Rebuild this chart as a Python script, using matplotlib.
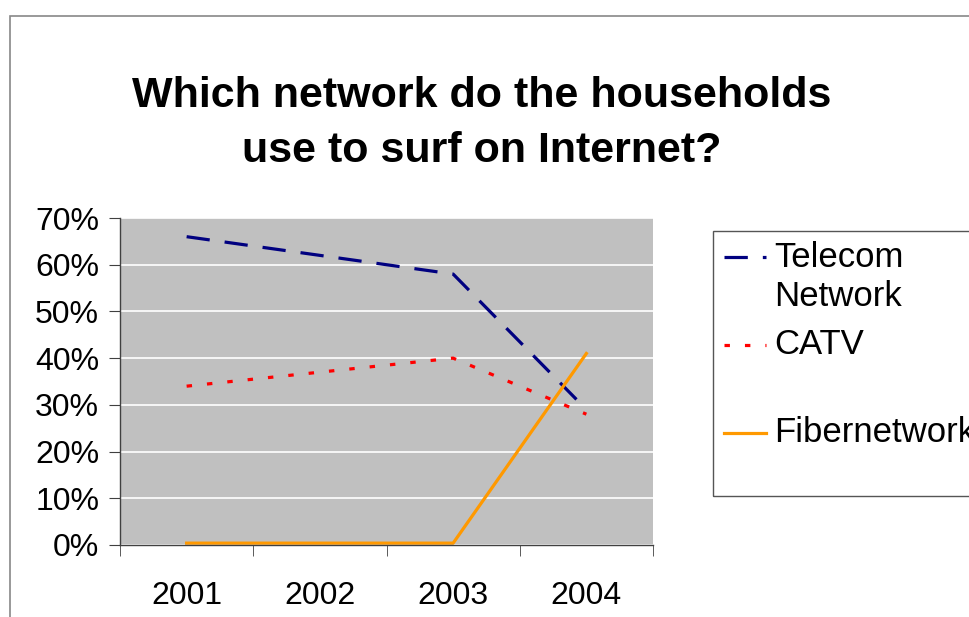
import matplotlib
matplotlib.use("Agg")
import matplotlib.pyplot as plt
from matplotlib.lines import Line2D
from matplotlib.patches import Rectangle

plt.rcParams["font.family"] = ["Liberation Sans", "DejaVu Sans"]

years = ["2001", "2002", "2003", "2004"]
telecom = [66, 62, 58, 29]
catv = [34, 37, 40, 28]
fiber = [0.4, 0.4, 0.4, 41]
yticks = [0, 10, 20, 30, 40, 50, 60, 70]

NAVY = "#000080"
RED = "#FF0000"
ORANGE = "#FF9900"

fig = plt.figure(figsize=(9.70, 6.17), dpi=100)

# outer chart frame
fig.add_artist(Rectangle((10 / 970, -0.1), 1.1, (617 - 16) / 617 + 0.1,
                         transform=fig.transFigure, fill=False,
                         edgecolor="#888888", lw=1.2))

ax = fig.add_axes([120 / 970, 72 / 617, 533 / 970, 327 / 617])
ax.set_facecolor("#C0C0C0")
x = range(len(years))
lw = 2.3
ax.plot(x, telecom, color=NAVY, lw=lw, dashes=(7.3, 4.7))
ax.plot(x, catv, color=RED, lw=lw, dashes=(1.7, 4.7))
ax.plot(x, fiber, color=ORANGE, lw=lw)

ax.set_xlim(-0.5, 3.5)
ax.set_ylim(0, 70)
ax.set_yticks(yticks)
ax.set_yticklabels([f"{v}%" for v in yticks], fontsize=23)
ax.yaxis.grid(True, color="white", lw=1.2)
ax.set_axisbelow(True)
ax.set_xticks(list(x))
ax.set_xticklabels(years, fontsize=23)
ax.set_xticks([-0.5, 0.5, 1.5, 2.5, 3.5], minor=True)
ax.tick_params(axis="x", which="major", length=0, pad=26)
ax.tick_params(axis="x", which="minor", length=8, color="#404040", direction="out")
ax.tick_params(axis="y", length=8, color="#404040", pad=7)
for s in ("top", "right"):
    ax.spines[s].set_visible(False)
for s in ("left", "bottom"):
    ax.spines[s].set_color("#404040")
    ax.spines[s].set_linewidth(1.0)

fig.text(482 / 970, 1 - 96 / 617, "Which network do the households",
         ha="center", va="center", fontsize=31, fontweight="bold")
fig.text(482 / 970, 1 - 151 / 617, "use to surf on Internet?",
         ha="center", va="center", fontsize=31, fontweight="bold")

# legend box
fig.add_artist(Rectangle((713 / 970, 1 - 496 / 617), 0.3, (496 - 231) / 617,
                         transform=fig.transFigure, fill=False,
                         edgecolor="#555555", lw=1.0))
entries = [("Telecom\nNetwork", NAVY, (7.3, 4.7), 257),
           ("CATV", RED, (1.7, 4.7), 345),
           ("Fibernetwork", ORANGE, None, 433)]
for label, color, dash, ypix in entries:
    yf = 1 - ypix / 617
    ln = Line2D([724 / 970, 766 / 970], [yf, yf], transform=fig.transFigure,
                color=color, lw=lw)
    if dash:
        ln.set_dashes(dash)
    fig.add_artist(ln)
    if "\n" in label:
        first, second = label.split("\n")
        fig.text(774 / 970, yf, first, ha="left", va="center", fontsize=25)
        fig.text(774 / 970, yf - 40 / 617, second, ha="left", va="center", fontsize=25)
    else:
        fig.text(774 / 970, yf, label, ha="left", va="center", fontsize=25)

fig.savefig("out.png", dpi=100)
